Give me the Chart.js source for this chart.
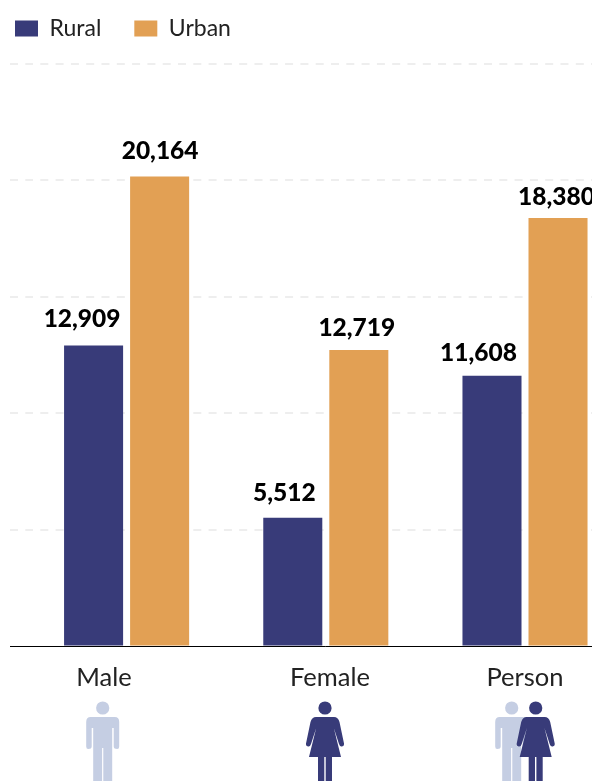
<!DOCTYPE html>
<html><head><meta charset="utf-8">
<style>html,body{margin:0;padding:0;background:#fff;overflow:hidden;width:592px;height:781px}
#w{position:relative;width:640px;height:781px}</style>
<script src="https://cdn.jsdelivr.net/npm/chart.js@4"></script></head>
<body><div id="w"><canvas id="c" width="640" height="781"></canvas></div>
<script>
const categories = ["Male", "Female", "Person"];
const seriesNames = ["Rural", "Urban"];
const ruralValues = [12909, 5512, 11608];
const urbanValues = [20164, 12719, 18380];
const axisMax = 25000;
const axisStep = 5000;

const NAVY = "#383b79", ORANGE = "#e2a054", PALE = "#c5cee3";
const FONT = "Lato, 'Noto Sans', sans-serif";
const valueShift = [[-11.5, -8.5, -13.5], [0.5, -2, -1.5]];
const valueLift = [[18.5, 16.5, 14.5], [17.5, 13.5, 13.5]];
const catLabelX = [104, 330, 525];

function male(ctx, cx, top, color) {
  ctx.save(); ctx.translate(cx, top); ctx.fillStyle = color;
  ctx.beginPath(); ctx.arc(0, 7, 6.6, 0, Math.PI * 2); ctx.fill();
  const p = new Path2D("M-12 16 Q-16.5 16 -16.5 21 V45.5 Q-16.5 48 -14.5 48 Q-11 48 -11 45.5 V27 H-9.5 V86 H-0.6 V47 H0.6 V86 H9.5 V27 H11 V45.5 Q11 48 14.5 48 Q16.5 48 16.5 45.5 V21 Q16.5 16 12 16 Z");
  ctx.fill(p);
  ctx.restore();
}
function female(ctx, cx, top, color) {
  ctx.save(); ctx.translate(cx, top); ctx.fillStyle = color;
  ctx.beginPath(); ctx.arc(0, 7, 6.6, 0, Math.PI * 2); ctx.fill();
  const p = new Path2D("M-9 16 Q-13 16 -14.5 21 L-19 42.5 Q-19.5 45 -17 45.5 Q-15 46 -14 43 L-8.8 27 L-16 56 H-7 V86 H-0.7 V56 H0.7 V86 H7 V56 H16 L8.8 27 L14 43 Q15 46 17 45.5 Q19.5 45 19 42.5 L14.5 21 Q13 16 9 16 Z");
  ctx.fill(p);
  ctx.restore();
}

const layoutFix = {
  id: "layoutFix",
  afterLayout(chart) { chart.legend.left = -18; chart.legend.top = -16; }
};
const decorations = {
  id: "decorations",
  afterDatasetsDraw(chart) {
    const ctx = chart.ctx;
    ctx.save();
    ctx.textAlign = "center";
    ctx.textBaseline = "alphabetic";
    ctx.fillStyle = "#000";
    ctx.font = "900 24.5px " + FONT;
    chart.data.datasets.forEach((ds, d) => {
      chart.getDatasetMeta(d).data.forEach((bar, i) => {
        ctx.fillText(ds.data[i].toLocaleString("en-US"), bar.x + valueShift[d][i], bar.y - valueLift[d][i]);
      });
    });
    ctx.fillStyle = "#222";
    ctx.font = "400 25.5px " + FONT;
    categories.forEach((c, i) => ctx.fillText(c, catLabelX[i], 685.5));
    ctx.restore();
    male(ctx, 102.7, 701, PALE);
    female(ctx, 325, 701, NAVY);
    male(ctx, 511.7, 701, PALE);
    female(ctx, 535.7, 701, NAVY);
  }
};

new Chart(document.getElementById("c"), {
  type: "bar",
  data: {
    labels: categories,
    datasets: [
      { label: seriesNames[0], data: ruralValues, backgroundColor: NAVY },
      { label: seriesNames[1], data: urbanValues, backgroundColor: ORANGE }
    ]
  },
  plugins: [layoutFix, decorations],
  options: {
    responsive: false,
    animation: false,
    devicePixelRatio: 1,
    categoryPercentage: 0.663,
    barPercentage: 0.894,
    layout: { padding: { top: -2, left: 10, right: 15.4, bottom: 127 } },
    plugins: {
      tooltip: { enabled: false },
      legend: {
        align: "start",
        labels: { boxWidth: 23, boxHeight: 16, padding: 33, color: "#222", font: { family: FONT, size: 23 } }
      }
    },
    scales: {
      x: {
        grid: { display: false },
        border: { display: false },
        ticks: { display: false }
      },
      y: {
        min: 0, max: axisMax,
        ticks: { display: false, stepSize: axisStep },
        border: {
          display: false,
          dash: c => c.tick && c.tick.value === 0 ? [] : [8, 7.3],
          dashOffset: 2
        },
        grid: {
          tickLength: 17,
          lineWidth: c => c.tick.value === 0 ? 1 : 2,
          color: c => c.tick.value === 0 ? "#000" : "#eeeeee",
          tickColor: c => c.tick.value === 0 ? "#000" : "#eeeeee",
          tickBorderDash: c => c.tick.value === 0 ? [] : [8, 7.3],
          tickWidth: c => c.tick.value === 0 ? 1 : 2
        }
      }
    }
  }
});
</script></body></html>
